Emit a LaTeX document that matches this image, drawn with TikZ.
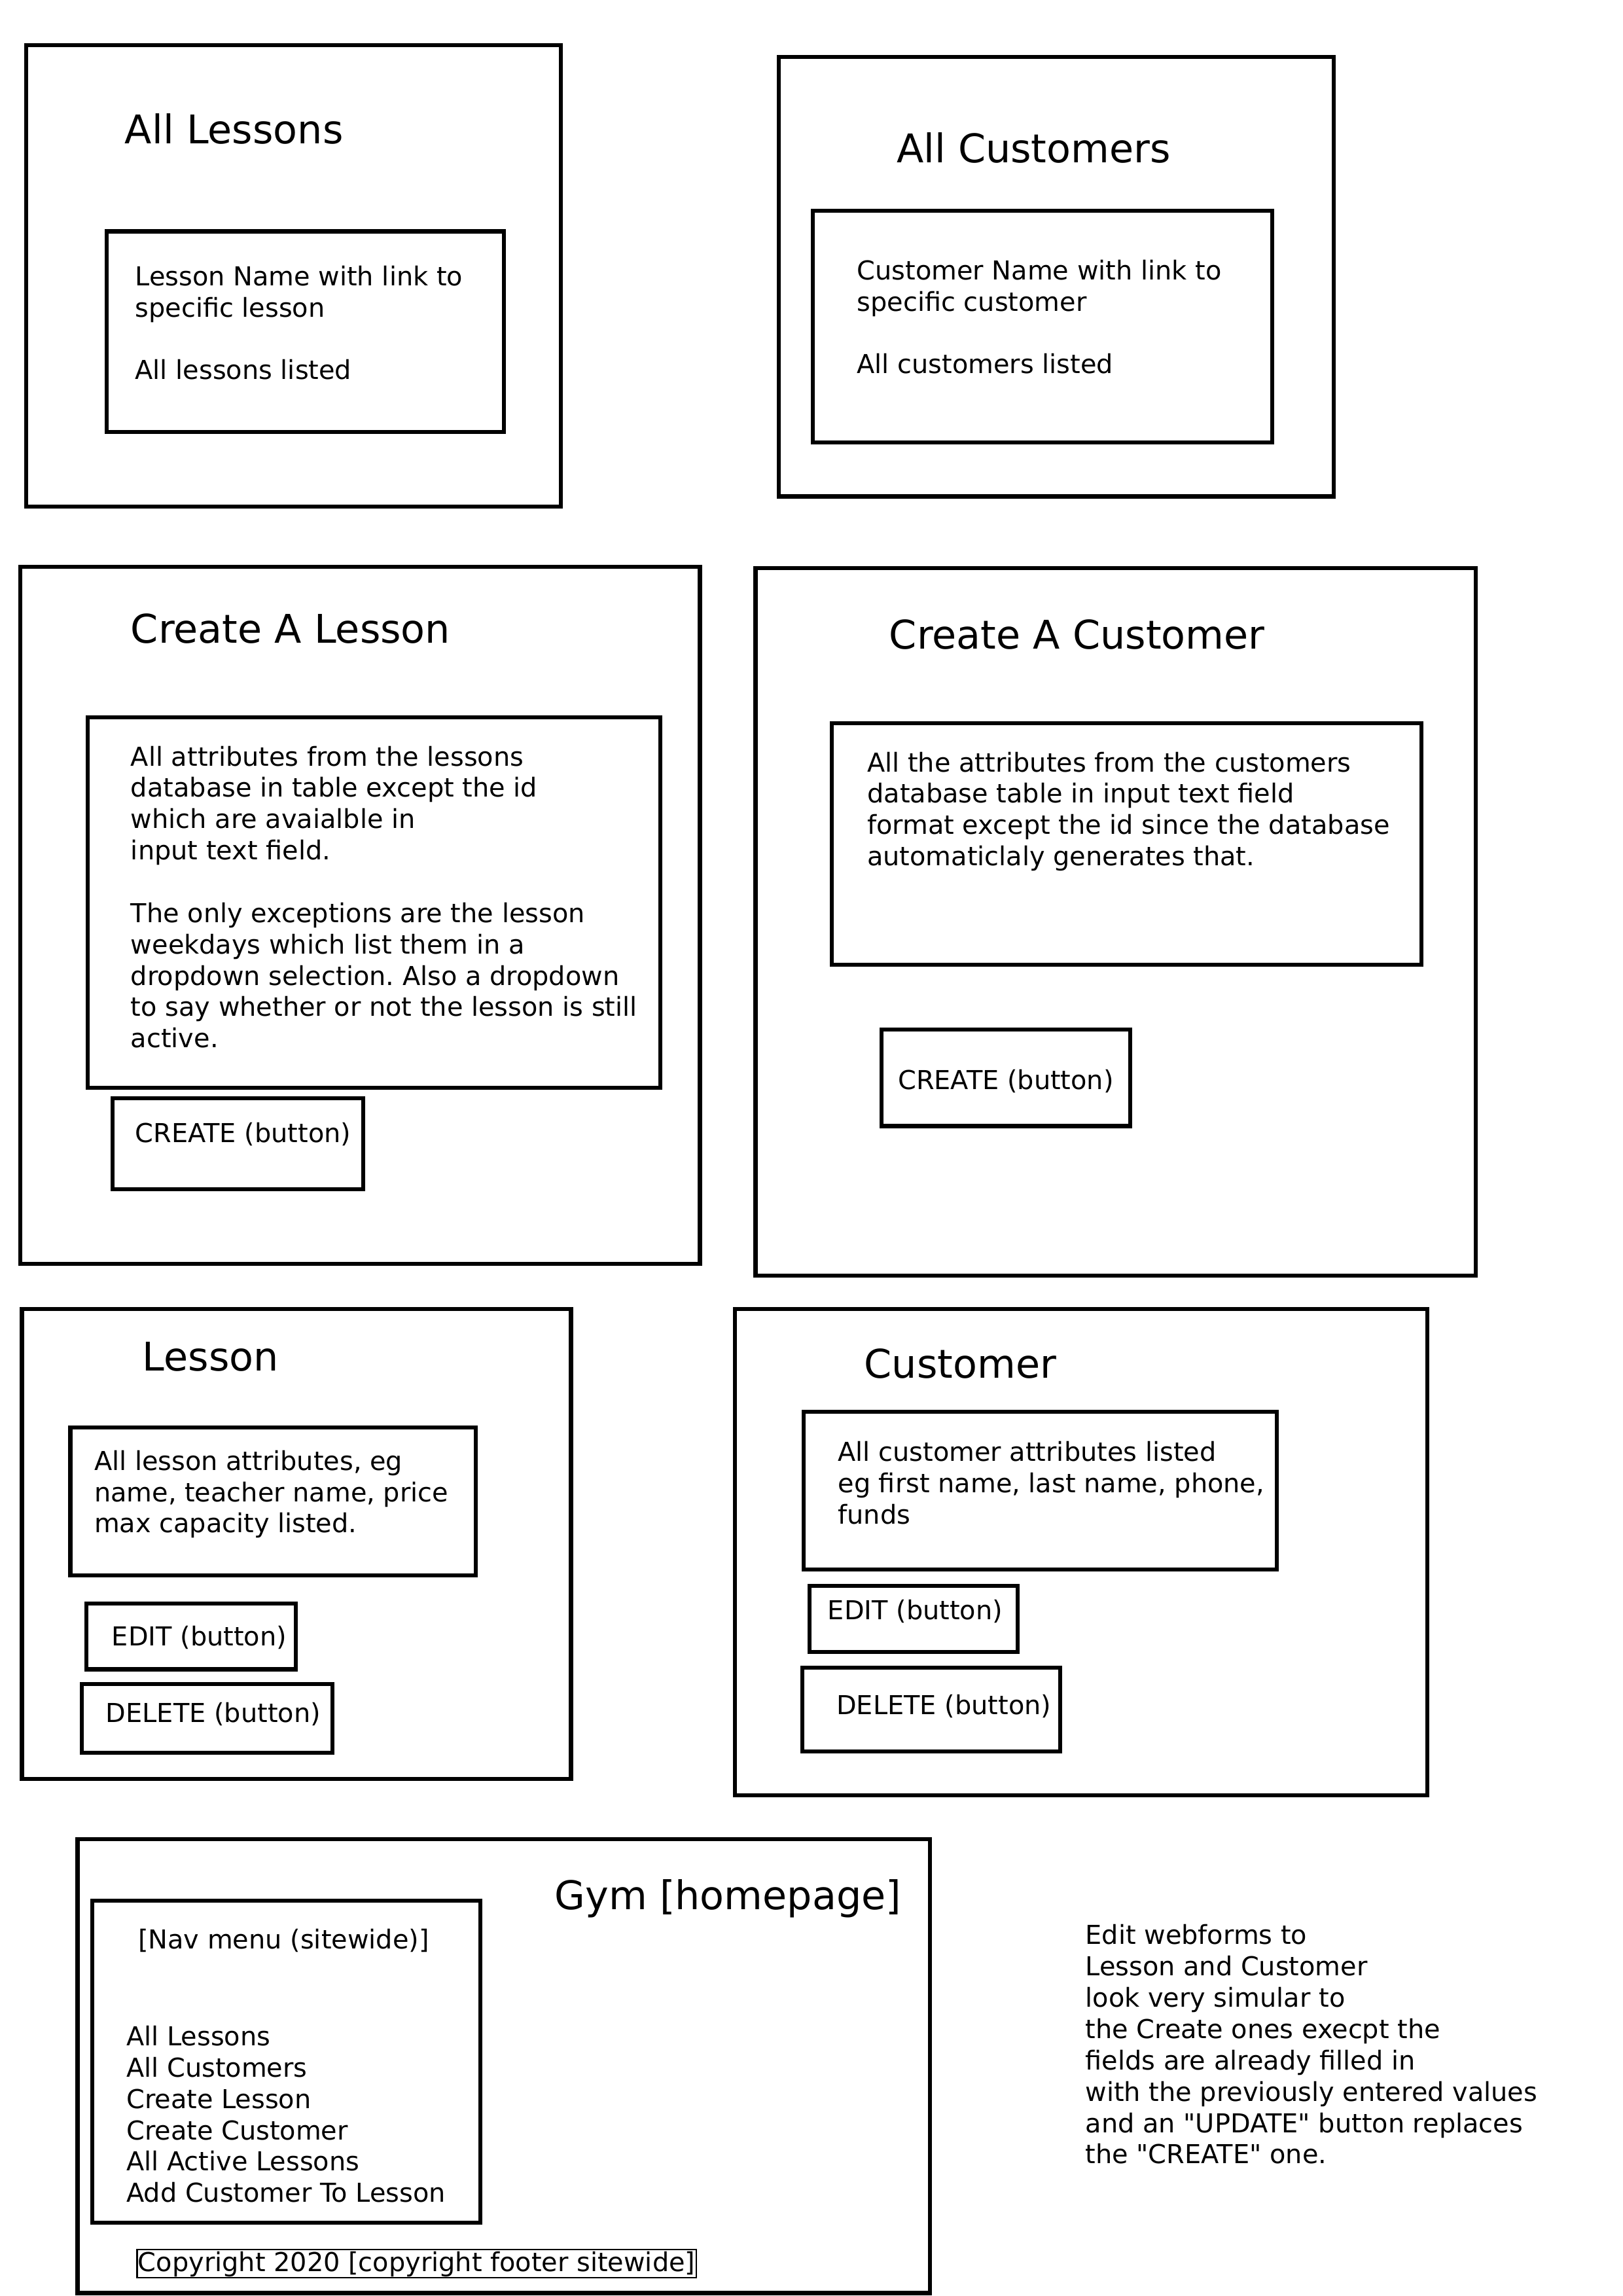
\documentclass[tikz,border=0pt]{standalone}
\usepackage{fontspec}
\setmainfont{DejaVu Sans}
\usetikzlibrary{fit}
\frenchspacing
\tikzset{
  x=0.539pt, y=-0.539pt,
  box/.style={draw=black, line width=1.5pt, inner sep=0pt, fill=none},
  thinbox/.style={draw=black, line width=0.6pt, inner sep=0pt},
  ttl/.style={anchor=base west, inner sep=0pt, font=\fontsize{14.55}{17.4}\selectfont},
  body/.style={anchor=base west, inner sep=0pt, align=left, yshift=-0.8pt, font=\fontsize{9.6}{11.53}\selectfont\frenchspacing},
}
\newcommand{\mkbox}[5]{%
  \path (#2,#3) coordinate (#1-nw) (#4,#5) coordinate (#1-se);
  \node[box, fit=(#1-nw)(#1-se)] (#1) {};}
\begin{document}
\begin{tikzpicture}
\useasboundingbox (0,0) rectangle (1108.5,1568);
\fill[white] (0,0) rectangle (1108.5,1568);

% All Lessons
\mkbox{alo}{18}{31}{383}{346}
\node[ttl] (alt) at (85,98) {All Lessons};
\mkbox{ali}{73}{158}{344}{295}
\node[body] (alx) at (92,257.7) {Lesson Name with link to\\specific lesson\\\mbox{}\\All lessons listed};

% All Customers
\mkbox{aco}{532}{39}{911}{339}
\node[ttl] (act) at (612,111) {All Customers};
\mkbox{aci}{555}{144}{869}{302}
\node[body] (acx) at (585,253.7) {Customer Name with link to\\specific customer\\\mbox{}\\All customers listed};

% Create A Lesson
\mkbox{clo}{14}{387}{478}{863}
\node[ttl] (clt) at (89,439) {Create A Lesson};
\mkbox{cli}{60}{490}{451}{743}
\node[body] (clx) at (89,714) {All attributes from the lessons\\database in table except the id\\which are avaialble in\\input text field.\\\mbox{}\\The only exceptions are the lesson\\weekdays which list them in a\\dropdown selection. Also a dropdown\\to say whether or not the lesson is still\\active.};
\mkbox{clb}{77}{750}{248}{812}
\node[body] (clbt) at (92,778.5) {CREATE (button)};

% Create A Customer
\mkbox{cco}{516}{388}{1008}{871}
\node[ttl] (cct) at (607,443) {Create A Customer};
\mkbox{cci}{568}{494}{971}{659}
\node[body] (ccx) at (592,589.7) {All the attributes from the customers\\database table in input text field\\format except the id since the database\\automaticlaly generates that.};
\mkbox{ccb}{602}{703}{772}{769}
\node[body, anchor=base] (ccbt) at (687,742.5) {CREATE (button)};

% Lesson
\mkbox{lo}{15}{894}{390}{1215}
\node[ttl] (lt) at (97,936) {Lesson};
\mkbox{li}{48}{975}{325}{1076}
\node[body] (lx) at (64,1045.3) {All lesson attributes, eg\\name, teacher name, price\\max capacity listed.};
\mkbox{le}{59}{1095}{202}{1140}
\node[body] (let) at (76,1122.5) {EDIT (button)};
\mkbox{ld}{56}{1150}{227}{1197}
\node[body] (ldt) at (72,1174.5) {DELETE (button)};

% Customer
\mkbox{co}{502}{894}{975}{1226}
\node[ttl] (ct) at (590,941) {Customer};
\mkbox{ci}{549}{964}{872}{1072}
\node[body] (cx) at (572,1039.3) {All customer attributes listed\\eg first name, last name, phone,\\funds};
\mkbox{ce}{553}{1083}{695}{1128}
\node[body] (cet) at (565,1104.5) {EDIT (button)};
\mkbox{cd}{548}{1139}{724}{1196}
\node[body] (cdt) at (571,1169.5) {DELETE (button)};

% Gym homepage
\mkbox{go}{53}{1256}{635}{1566}
\node[ttl, anchor=base east] (gt) at (616,1304) {Gym [homepage]};
\mkbox{gi}{63}{1298}{328}{1518}
\node[body] (gnav) at (94,1329.5) {[Nav menu (sitewide)]};
\node[body] (glist) at (86,1502.5) {All Lessons\\All Customers\\Create Lesson\\Create Customer\\All Active Lessons\\Add Customer To Lesson};
\node[body, thinbox, yshift=0.8pt, text height=7.9pt, text depth=2.4pt, inner xsep=0.4pt] (copy) at (93,1551) {Copyright 2020 [copyright footer sitewide]};

% Note
\node[body] (note) at (741,1476.2) {Edit webforms to\\Lesson and Customer\\look very simular to\\the Create ones execpt the\\fields are already filled in\\with the previously entered values\\and an \textquotedbl UPDATE\textquotedbl{} button replaces\\the \textquotedbl CREATE\textquotedbl{} one.};
\end{tikzpicture}
\end{document}
